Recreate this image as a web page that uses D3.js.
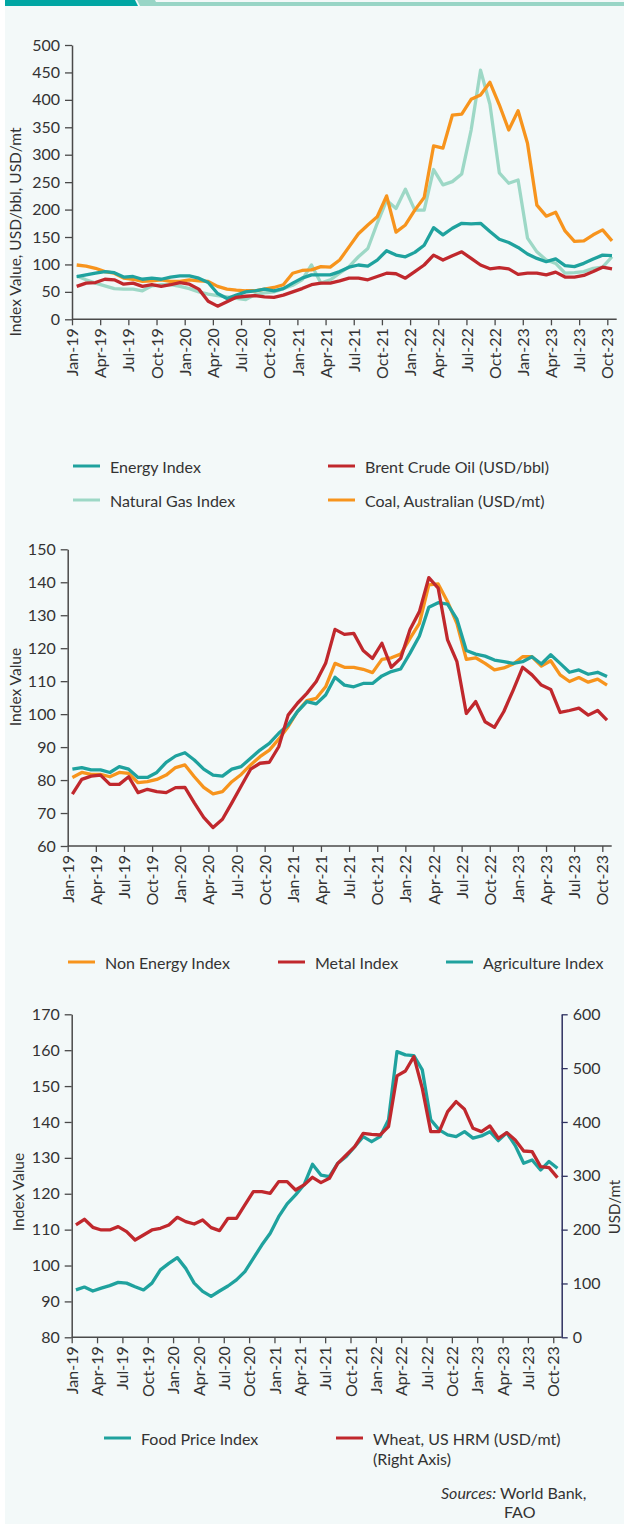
<!DOCTYPE html>
<html>
<head>
<meta charset="utf-8">
<script src="https://cdn.jsdelivr.net/npm/d3@7"></script>
<style>
  body { margin: 0; background: #fff; }
  svg text { font-family: Lato, "Open Sans", sans-serif; fill: #333; }
</style>
</head>
<body>
<svg id="chart" width="624" height="1524"></svg>
<script>
// months Jan-19 .. Oct-23
const months = ("Jan-19 Feb-19 Mar-19 Apr-19 May-19 Jun-19 Jul-19 Aug-19 Sep-19 Oct-19 Nov-19 Dec-19 " +
  "Jan-20 Feb-20 Mar-20 Apr-20 May-20 Jun-20 Jul-20 Aug-20 Sep-20 Oct-20 Nov-20 Dec-20 " +
  "Jan-21 Feb-21 Mar-21 Apr-21 May-21 Jun-21 Jul-21 Aug-21 Sep-21 Oct-21 Nov-21 Dec-21 " +
  "Jan-22 Feb-22 Mar-22 Apr-22 May-22 Jun-22 Jul-22 Aug-22 Sep-22 Oct-22 Nov-22 Dec-22 " +
  "Jan-23 Feb-23 Mar-23 Apr-23 May-23 Jun-23 Jul-23 Aug-23 Sep-23 Oct-23").split(" ")
const tickMonths = ["Jan-19","Apr-19","Jul-19","Oct-19","Jan-20","Apr-20","Jul-20","Oct-20","Jan-21","Apr-21",
  "Jul-21","Oct-21","Jan-22","Apr-22","Jul-22","Oct-22","Jan-23","Apr-23","Jul-23","Oct-23"]

// chart 1 - energy
const energyIndex = [78,81,84,87,85,77,78,73,75,73,77,79,79,75,67,47,38,44,50,52,55,52,56,66,75,81,81,81,87,95,
  99,97,108,125,117,114,122,135,167,154,166,175,174,175,160,146,140,131,119,111,105,110,98,96,102,110,117,116]
const brentOil = [60,66,67,73,72,64,66,60,63,60,63,67,64,55,33,24,32,40,42,43,41,40,44,50,56,63,66,66,70,75,
  75,72,78,84,83,75,87,99,117,108,116,123,111,99,92,94,92,82,84,84,81,86,77,77,80,87,95,92]
const natGasIndex = [79,72,66,61,56,55,55,52,61,63,63,60,56,50,46,43,41,38,36,45,48,50,56,62,72,99,
  66,72,84,96,114,129,175,217,202,237,199,199,273,245,251,265,345,454,392,267,248,254,148,123,108,102,84,85,87,93,95,114]
const coalAus = [99,97,93,87,84,75,73,69,70,72,69,69,72,70,69,60,55,53,52,52,55,58,63,84,89,90,96,95,108,132,
  156,172,187,225,159,172,199,222,316,312,372,374,401,409,432,391,345,380,321,208,188,195,161,142,143,154,163,143]

// chart 2 - non energy
const nonEnergyIndex = [80.8,82.3,81.7,81.7,81.0,82.3,82.0,79.2,79.5,80.2,81.5,83.8,84.6,81.0,77.8,75.8,76.5,79.5,81.7,84.6,
  87.1,89.1,92.4,96.2,100.8,104.1,104.8,108.3,115.4,114.2,114.2,113.6,112.6,116.6,117.1,118.2,123.0,127.5,139.2,139.5,
  134.1,127.5,116.6,117.1,115.4,113.4,114.0,115.2,117.4,117.4,114.6,116.2,111.9,109.9,111.1,109.7,110.6,108.8]
const metalIndex = [75.7,80.2,81.2,81.5,78.7,78.7,81.0,76.2,77.2,76.5,76.2,77.7,77.8,73.1,68.7,65.6,68.1,73.1,78.2,83.3,
  85.1,85.4,90.1,99.7,103.3,106.3,109.9,115.4,125.7,124.2,124.5,119.3,116.9,121.5,114.2,116.9,125.7,131.1,141.4,138.2,
  122.5,115.9,100.2,103.8,97.7,96.0,100.8,107.3,114.2,111.9,108.8,107.5,100.5,101.1,101.8,99.7,101.1,98.2]
const agriIndex = [83.3,83.8,83.1,83.1,82.3,84.1,83.3,80.8,80.8,82.3,85.4,87.3,88.3,86.1,83.3,81.5,81.2,83.3,84.1,86.6,
  89.1,91.1,94.2,96.7,100.8,103.8,103.1,105.8,111.2,108.8,108.3,109.3,109.3,111.6,112.9,113.7,118.5,123.7,132.4,133.8,
  133.4,128.8,119.3,118.2,117.6,116.4,115.9,115.4,115.9,117.4,115.2,118.0,115.4,112.7,113.4,112.1,112.7,111.4]

// chart 3 - food
const foodPriceIndex = [93.2,94.0,92.9,93.7,94.4,95.3,95.1,94.1,93.2,95.1,98.8,100.6,102.2,99.2,95.1,92.8,91.4,92.9,94.3,96.0,
  98.3,102.0,105.7,109.0,113.6,117.2,119.7,122.5,128.2,125.2,124.8,128.5,130.4,133.1,135.9,134.5,135.9,140.6,159.6,158.7,
  158.5,154.5,140.6,137.8,136.4,135.9,137.3,135.5,136.1,137.3,134.8,137.0,133.4,128.5,129.4,126.6,129.0,127.1]
const wheatHRW = [208.7,219.2,204.3,199.4,199.4,205.6,196.3,180.8,190.1,199.4,202.5,208.7,222.9,214.9,210.5,217.9,203.7,198.1,221.1,221.1,
  245.8,270.6,270.6,267.5,289.2,289.2,273.7,283.0,297.2,287.3,295.3,323.2,338.7,354.2,378.9,377.1,375.8,391.3,485.5,494.7,
  521.4,462.5,382.0,382.0,419.2,437.8,423.5,388.2,382.0,392.6,369.7,380.2,366.6,346.1,344.9,317.0,315.2,296.6]

const TEAL = "#1fa29e", LIGHT = "#9dd8c6", RED = "#c0282d", ORANGE = "#f7941d", AXIS = "#4a4a4a"
const FS = "16px"

const svg = d3.select("#chart")

// background + top banner
svg.append("rect").attr("x", 5).attr("y", 0).attr("width", 619).attr("height", 1524).attr("fill", "#f3f9f9")
svg.append("polygon").attr("points", "5,0 135,0 138,6 5,6").attr("fill", "#00a6a3")
svg.append("polygon").attr("points", "137,0 155,0 158,6 140,6").attr("fill", "#98d5c6")
svg.append("rect").attr("x", 156).attr("y", 2).attr("width", 468).attr("height", 4).attr("fill", "#98d5c6")

function drawChart(c) {
  const g = svg.append("g")
  const x = d3.scaleBand().domain(months).range([c.x0, c.x1]).padding(0)
  const bw = x.bandwidth()
  const xt = d3.scalePoint().domain(months).range([c.x0, c.x0 + bw * (months.length - 1)])
  const y = d3.scaleLinear().domain(c.yDomain).range([c.yBottom, c.yTop])

  // x axis
  const xAxis = g.append("g")
    .attr("transform", "translate(0," + c.yBottom + ")")
    .call(d3.axisBottom(xt).tickValues(tickMonths).tickSize(6).tickSizeOuter(0))
  xAxis.select(".domain").remove()
  xAxis.append("line").attr("x1", c.x0).attr("x2", c.x1).attr("stroke", AXIS).attr("stroke-width", 1.5)
  xAxis.selectAll(".tick line").attr("stroke", AXIS).attr("stroke-width", 1.3)
  xAxis.selectAll("text")
    .attr("transform", "rotate(-90)")
    .attr("text-anchor", "end")
    .attr("x", -9).attr("y", 0).attr("dy", "0.35em")
    .style("font-size", FS).style("fill", "#333")

  // y axis
  const yAxis = g.append("g")
    .attr("transform", "translate(" + c.x0 + ",0)")
    .call(d3.axisLeft(y).tickValues(c.yTicks).tickSize(7).tickPadding(5).tickSizeOuter(0))
  yAxis.select(".domain").attr("stroke", AXIS).attr("stroke-width", 1.5)
  yAxis.selectAll(".tick line").attr("stroke", AXIS).attr("stroke-width", 1.3)
  yAxis.selectAll("text").style("font-size", FS).style("fill", "#333")

  g.append("text")
    .attr("transform", "translate(" + c.yLabelX + "," + c.yLabelY + ") rotate(-90)")
    .attr("text-anchor", "middle").attr("dominant-baseline", "central")
    .style("font-size", "15.5px")
    .text(c.yLabel)

  let y2 = null
  if (c.y2Domain) {
    y2 = d3.scaleLinear().domain(c.y2Domain).range([c.yBottom, c.yTop])
    const rAxis = g.append("g")
      .attr("transform", "translate(" + c.x1 + ",0)")
      .call(d3.axisRight(y2).tickValues(c.y2Ticks).tickSize(6).tickPadding(5).tickSizeOuter(0))
    rAxis.select(".domain").attr("stroke", "#2e3160").attr("stroke-width", 1.5)
    rAxis.selectAll(".tick line").attr("stroke", "#2e3160").attr("stroke-width", 1.3)
    rAxis.selectAll("text").style("font-size", FS).style("fill", "#333")
    g.append("text")
      .attr("transform", "translate(" + c.y2LabelX + "," + c.y2LabelY + ") rotate(-90)")
      .attr("text-anchor", "middle").attr("dominant-baseline", "central")
      .style("font-size", "15px")
      .text(c.y2Label)
  }

  // lines
  c.series.forEach(function (s) {
    const sc = s.right ? y2 : y
    const line = d3.line()
      .x((d, i) => x(months[i]) + bw / 2)
      .y(d => sc(d))
    g.append("path")
      .datum(s.values)
      .attr("d", line)
      .attr("fill", "none")
      .attr("stroke", s.color)
      .attr("stroke-width", 3.3)
      .attr("stroke-linejoin", "round")
  })

  // legend
  c.legend.forEach(function (l) {
    g.append("line")
      .attr("x1", l.x).attr("x2", l.x + 27)
      .attr("y1", l.y).attr("y2", l.y)
      .attr("stroke", l.color).attr("stroke-width", 3)
    const t = g.append("text")
      .attr("x", l.x + 37).attr("y", l.y)
      .attr("dominant-baseline", "central")
      .style("font-size", FS)
    l.text.forEach(function (line, k) {
      t.append("tspan").attr("x", l.x + 37).attr("dy", k == 0 ? 0 : 20).text(line)
    })
  })
}

drawChart({
  x0: 72, x1: 616.7, yTop: 45, yBottom: 319.3,
  yDomain: [0, 500], yTicks: d3.range(0, 501, 50),
  yLabel: "Index Value, USD/bbl, USD/mt", yLabelX: 15, yLabelY: 232,
  series: [
    { values: natGasIndex, color: LIGHT },
    { values: coalAus, color: ORANGE },
    { values: energyIndex, color: TEAL },
    { values: brentOil, color: RED }
  ],
  legend: [
    { x: 73, y: 466, color: TEAL, text: ["Energy Index"] },
    { x: 328, y: 466, color: RED, text: ["Brent Crude Oil (USD/bbl)"] },
    { x: 73, y: 500, color: LIGHT, text: ["Natural Gas Index"] },
    { x: 328, y: 500, color: ORANGE, text: ["Coal, Australian (USD/mt)"] }
  ]
})

drawChart({
  x0: 67.7, x1: 611.7, yTop: 549.3, yBottom: 846,
  yDomain: [60, 150], yTicks: d3.range(60, 151, 10),
  yLabel: "Index Value", yLabelX: 15, yLabelY: 687,
  series: [
    { values: nonEnergyIndex, color: ORANGE },
    { values: agriIndex, color: TEAL },
    { values: metalIndex, color: RED }
  ],
  legend: [
    { x: 68, y: 962, color: ORANGE, text: ["Non Energy Index"] },
    { x: 278, y: 962, color: RED, text: ["Metal Index"] },
    { x: 446, y: 962, color: TEAL, text: ["Agriculture Index"] }
  ]
})

drawChart({
  x0: 71.7, x1: 561.7, yTop: 1014.3, yBottom: 1337.3,
  yDomain: [80, 170], yTicks: d3.range(80, 171, 10),
  yLabel: "Index Value", yLabelX: 18, yLabelY: 1192,
  y2Domain: [0, 600], y2Ticks: d3.range(0, 601, 100),
  y2Label: "USD/mt", y2LabelX: 614, y2LabelY: 1207,
  series: [
    { values: foodPriceIndex, color: TEAL },
    { values: wheatHRW, color: RED, right: true }
  ],
  legend: [
    { x: 104, y: 1438, color: TEAL, text: ["Food Price Index"] },
    { x: 336, y: 1438, color: RED, text: ["Wheat, US HRM (USD/mt)", "(Right Axis)"] }
  ]
})

// sources
const src = svg.append("text").attr("x", 441).attr("y", 1492)
  .attr("dominant-baseline", "central").style("font-size", FS)
src.append("tspan").style("font-style", "italic").text("Sources:")
src.append("tspan").text(" World Bank,")
svg.append("text").attr("x", 504).attr("y", 1511)
  .attr("dominant-baseline", "central").style("font-size", FS)
  .text("FAO")
</script>
</body>
</html>
